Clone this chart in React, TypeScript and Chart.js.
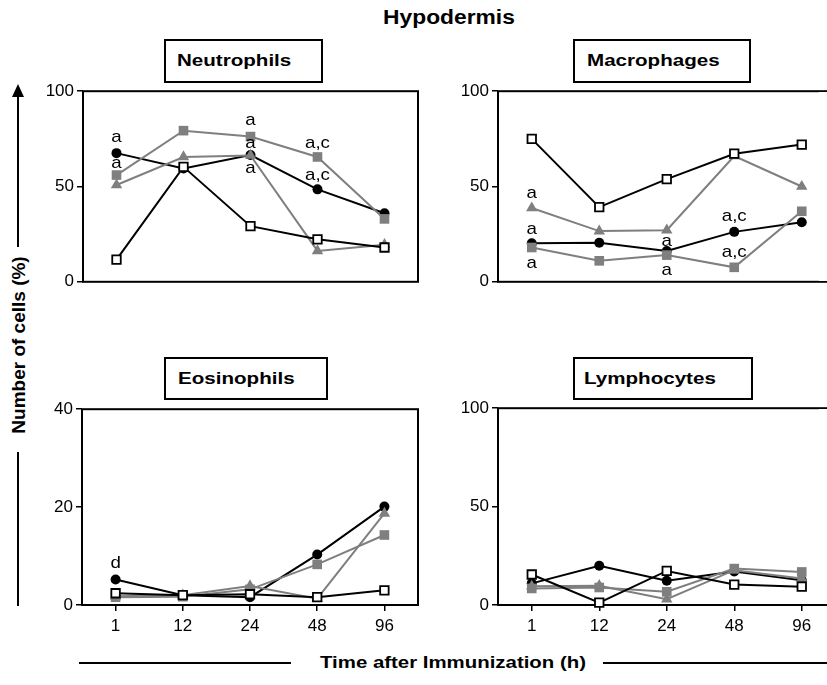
import React, { useEffect, useRef } from 'react';
import { Chart, registerables } from 'chart.js';

Chart.register(...registerables);

const FONT = '"Liberation Sans", Arial, Helvetica, sans-serif';
const GRAY = '#7f7f7f';

// Time points (h)
const timeLabels = ['1', '12', '24', '48', '96'];

// Neutrophils (%)
const neutroOpenSquare = [11.6, 60.3, 29.2, 22.3, 18];
const neutroGraySquare = [56, 79.3, 76.2, 65.5, 33];
const neutroTriangle = [50.8, 65.5, 66.3, 16.2, 19.5];
const neutroCircle = [67.5, 59.5, 66.5, 48.5, 36];

// Macrophages (%)
const macroOpenSquare = [75, 39.2, 53.9, 67.2, 72];
const macroGraySquare = [18, 11, 14, 7.6, 37];
const macroTriangle = [38.7, 26.6, 27.1, 66, 50];
const macroCircle = [20.2, 20.5, 16.2, 26.2, 31.2];

// Eosinophils (%)
const eosinoOpenSquare = [2.4, 2.0, 2.2, 1.6, 3.0];
const eosinoGraySquare = [1.6, 1.7, 3.2, 8.3, 14.3];
const eosinoTriangle = [1.8, 2.0, 3.9, 1.3, 18.7];
const eosinoCircle = [5.2, 2.0, 1.6, 10.3, 20.1];

// Lymphocytes (%)
const lymphoOpenSquare = [15.5, 1.2, 17.3, 10.4, 9.3];
const lymphoGraySquare = [8.4, 8.9, 6.7, 18.5, 16.8];
const lymphoTriangle = [9.5, 9.8, 2.9, 17.7, 13.5];
const lymphoCircle = [11, 19.9, 12.3, 17, 12.6];

// Significance letters: time index, value level, text
const neutroNotes = [
  { i: 0, v: 75.8, t: 'a' },
  { i: 0, v: 62.3, t: 'a' },
  { i: 2, v: 84.5, t: 'a' },
  { i: 2, v: 72.5, t: 'a' },
  { i: 2, v: 59.6, t: 'a' },
  { i: 3, v: 72.5, t: 'a,c' },
  { i: 3, v: 56, t: 'a,c' },
];
const macroNotes = [
  { i: 0, v: 46.6, t: 'a' },
  { i: 0, v: 27.5, t: 'a' },
  { i: 0, v: 9.8, t: 'a' },
  { i: 2, v: 21.4, t: 'a' },
  { i: 2, v: 5.9, t: 'a' },
  { i: 3, v: 34.4, t: 'a,c' },
  { i: 3, v: 15.5, t: 'a,c' },
];
const eosinoNotes = [{ i: 0, v: 8.5, t: 'd' }];
const lymphoNotes: { i: number; v: number; t: string }[] = [];

type Note = { i: number; v: number; t: string };

const toPoints = (vals: number[]) => vals.map((v, i) => ({ x: i, y: v }));

function buildDatasets(open: number[], graySq: number[], tri: number[], circ: number[]) {
  return [
    {
      label: 'Open square',
      data: toPoints(open),
      borderColor: '#000',
      backgroundColor: '#fff',
      pointBackgroundColor: '#fff',
      pointBorderColor: '#000',
      pointStyle: 'rect',
      pointRadius: 6,
      pointBorderWidth: 1.8,
      borderWidth: 2,
      clip: false,
    },
    {
      label: 'Gray square',
      data: toPoints(graySq),
      borderColor: GRAY,
      backgroundColor: GRAY,
      pointStyle: 'rect',
      pointRadius: 6.8,
      pointBorderWidth: 0,
      borderWidth: 2,
      clip: false,
    },
    {
      label: 'Triangle',
      data: toPoints(tri),
      borderColor: GRAY,
      backgroundColor: GRAY,
      pointStyle: 'triangle',
      pointRadius: 6.6,
      pointBorderWidth: 0,
      borderWidth: 2,
      clip: false,
    },
    {
      label: 'Circle',
      data: toPoints(circ),
      borderColor: '#000',
      backgroundColor: '#000',
      pointStyle: 'circle',
      pointRadius: 5,
      pointBorderWidth: 0,
      borderWidth: 2,
      clip: false,
    },
  ];
}

type PanelProps = {
  left: number;
  top: number;
  width: number;
  height: number;
  xMax: number;
  yMax: number;
  yStep: number;
  showX: boolean;
  series: number[][];
  notes: Note[];
};

function Panel(p: PanelProps) {
  const ref = useRef<HTMLCanvasElement | null>(null);
  useEffect(() => {
    if (!ref.current) return;
    const notes = p.notes;
    const framePlugin = {
      id: 'frameNotes',
      beforeDatasetsDraw(chart: any) {
        const { ctx, chartArea: a } = chart;
        ctx.save();
        ctx.strokeStyle = '#000';
        ctx.lineWidth = 2;
        ctx.strokeRect(a.left, a.top, a.right - a.left, a.bottom - a.top);
        ctx.restore();
      },
      afterDatasetsDraw(chart: any) {
        const { ctx } = chart;
        const xs = chart.scales.x;
        const ys = chart.scales.y;
        ctx.save();
        ctx.fillStyle = '#000';
        ctx.font = `17px ${FONT}`;
        ctx.textAlign = 'center';
        ctx.textBaseline = 'middle';
        notes.forEach((n) => {
          const x = xs.getPixelForValue(n.i);
          const y = ys.getPixelForValue(n.v);
          ctx.save();
          ctx.translate(x, y);
          ctx.scale(1.1, 1);
          ctx.fillText(n.t, 0, 0);
          ctx.restore();
        });
        ctx.restore();
      },
    };
    const [a, b, c, d] = p.series;
    const chart = new Chart(ref.current, {
      type: 'line',
      data: { datasets: buildDatasets(a, b, c, d) as any },
      options: {
        responsive: false,
        animation: false,
        layout: { padding: { top: 12, right: 10, left: 0, bottom: 0 } },
        plugins: { legend: { display: false }, tooltip: { enabled: false } },
        elements: { line: { tension: 0 } },
        scales: {
          x: {
            type: 'linear',
            min: -0.5,
            max: p.xMax,
            border: { display: false },
            grid: {
              display: p.showX,
              drawOnChartArea: false,
              drawTicks: true,
              tickLength: 6,
              color: '#000',
              lineWidth: 1.5,
            },
            ticks: {
              display: p.showX,
              color: '#000',
              font: { family: FONT, size: 17 },
              padding: 5,
              maxRotation: 0,
              autoSkip: false,
              callback: (v: any) => timeLabels[Math.round(Number(v))] ?? '',
            },
            afterBuildTicks: (s: any) => {
              s.ticks = timeLabels.map((_, i) => ({ value: i }));
            },
            afterFit: (s: any) => {
              s.height = p.showX ? 40 : 12;
            },
          },
          y: {
            min: 0,
            max: p.yMax,
            border: { display: false },
            grid: {
              display: true,
              drawOnChartArea: false,
              drawTicks: true,
              tickLength: 6,
              color: '#000',
              lineWidth: 1.5,
            },
            ticks: {
              stepSize: p.yStep,
              color: '#000',
              font: { family: FONT, size: 17 },
              padding: 3,
            },
            afterFit: (s: any) => {
              s.width = 43;
            },
          },
        },
      } as any,
      plugins: [framePlugin],
    });
    return () => chart.destroy();
  }, []);
  return (
    <canvas
      ref={ref}
      width={p.width}
      height={p.height}
      style={{ position: 'absolute', left: p.left, top: p.top, width: p.width, height: p.height }}
    />
  );
}

function TitleBox(props: { text: string; left: number; top: number; width: number; height: number; pad: number }) {
  return (
    <div
      style={{
        position: 'absolute',
        left: props.left,
        top: props.top,
        width: props.width,
        height: props.height,
        boxSizing: 'border-box',
        border: '2px solid #000',
        background: '#fff',
        display: 'flex',
        alignItems: 'center',
      }}
    >
      <span
        style={{
          display: 'inline-block',
          marginLeft: props.pad,
          fontFamily: FONT,
          fontWeight: 'bold',
          fontSize: 17,
          lineHeight: '20px',
          transform: 'scaleX(1.21)',
          transformOrigin: 'left center',
          whiteSpace: 'nowrap',
          color: '#000',
        }}
      >
        {props.text}
      </span>
    </div>
  );
}

export default function App() {
  return (
    <div
      style={{
        position: 'fixed',
        left: 0,
        top: 0,
        width: 827,
        height: 685,
        overflow: 'hidden',
        background: '#fff',
      }}
    >
      <div
        style={{
          position: 'absolute',
          left: 449,
          top: 5,
          transform: 'translateX(-50%) scaleX(1.14)',
          fontFamily: FONT,
          fontWeight: 'bold',
          fontSize: 20,
          lineHeight: '24px',
          whiteSpace: 'nowrap',
          color: '#000',
        }}
      >
        Hypodermis
      </div>

      <Panel
        left={40}
        top={78}
        width={388}
        height={217}
        xMax={4.5}
        yMax={100}
        yStep={50}
        showX={false}
        series={[neutroOpenSquare, neutroGraySquare, neutroTriangle, neutroCircle]}
        notes={neutroNotes}
      />
      <Panel
        left={455}
        top={78}
        width={458}
        height={217}
        xMax={5.5}
        yMax={100}
        yStep={50}
        showX={false}
        series={[macroOpenSquare, macroGraySquare, macroTriangle, macroCircle]}
        notes={macroNotes}
      />
      <Panel
        left={39}
        top={396}
        width={389}
        height={249}
        xMax={4.5}
        yMax={40}
        yStep={20}
        showX={true}
        series={[eosinoOpenSquare, eosinoGraySquare, eosinoTriangle, eosinoCircle]}
        notes={eosinoNotes}
      />
      <Panel
        left={455}
        top={395}
        width={458}
        height={250}
        xMax={5.5}
        yMax={100}
        yStep={50}
        showX={true}
        series={[lymphoOpenSquare, lymphoGraySquare, lymphoTriangle, lymphoCircle]}
        notes={lymphoNotes}
      />

      {/* keep the page's right edge clean inside the right-hand plot areas */}
      <div style={{ position: 'absolute', left: 819, top: 92, width: 10, height: 189, background: '#fff' }} />
      <div style={{ position: 'absolute', left: 819, top: 409, width: 10, height: 194, background: '#fff' }} />

      <TitleBox text="Neutrophils" left={164} top={39} width={159} height={44} pad={11} />
      <TitleBox text="Macrophages" left={573} top={39} width={178} height={44} pad={12} />
      <TitleBox text="Eosinophils" left={164} top={357} width={164} height={43} pad={12} />
      <TitleBox text="Lymphocytes" left={573} top={357} width={180} height={43} pad={9} />

      {/* Y axis title with arrow */}
      <div
        style={{
          position: 'absolute',
          left: 0,
          top: 0,
          width: 0,
          height: 0,
          borderLeft: '6px solid transparent',
          borderRight: '6px solid transparent',
          borderBottom: '13px solid #000',
          transform: 'translate(12px, 84px)',
        }}
      />
      <div style={{ position: 'absolute', left: 17, top: 95, width: 2, height: 152, background: '#000' }} />
      <div
        style={{
          position: 'absolute',
          left: 19,
          top: 345,
          transform: 'translate(-50%, -50%) rotate(-90deg)',
          fontFamily: FONT,
          fontWeight: 'bold',
          fontSize: 19,
          lineHeight: '22px',
          whiteSpace: 'nowrap',
          color: '#000',
        }}
      >
        Number of cells (%)
      </div>
      <div style={{ position: 'absolute', left: 17, top: 452, width: 2, height: 154, background: '#000' }} />

      {/* X axis title with lines */}
      <div style={{ position: 'absolute', left: 79, top: 662, width: 212, height: 2, background: '#000' }} />
      <div
        style={{
          position: 'absolute',
          left: 453,
          top: 652,
          transform: 'translateX(-50%) scaleX(1.2)',
          fontFamily: FONT,
          fontWeight: 'bold',
          fontSize: 17,
          lineHeight: '22px',
          whiteSpace: 'nowrap',
          color: '#000',
        }}
      >
        Time after Immunization (h)
      </div>
      <div style={{ position: 'absolute', left: 603, top: 662, width: 230, height: 2, background: '#000' }} />
    </div>
  );
}
